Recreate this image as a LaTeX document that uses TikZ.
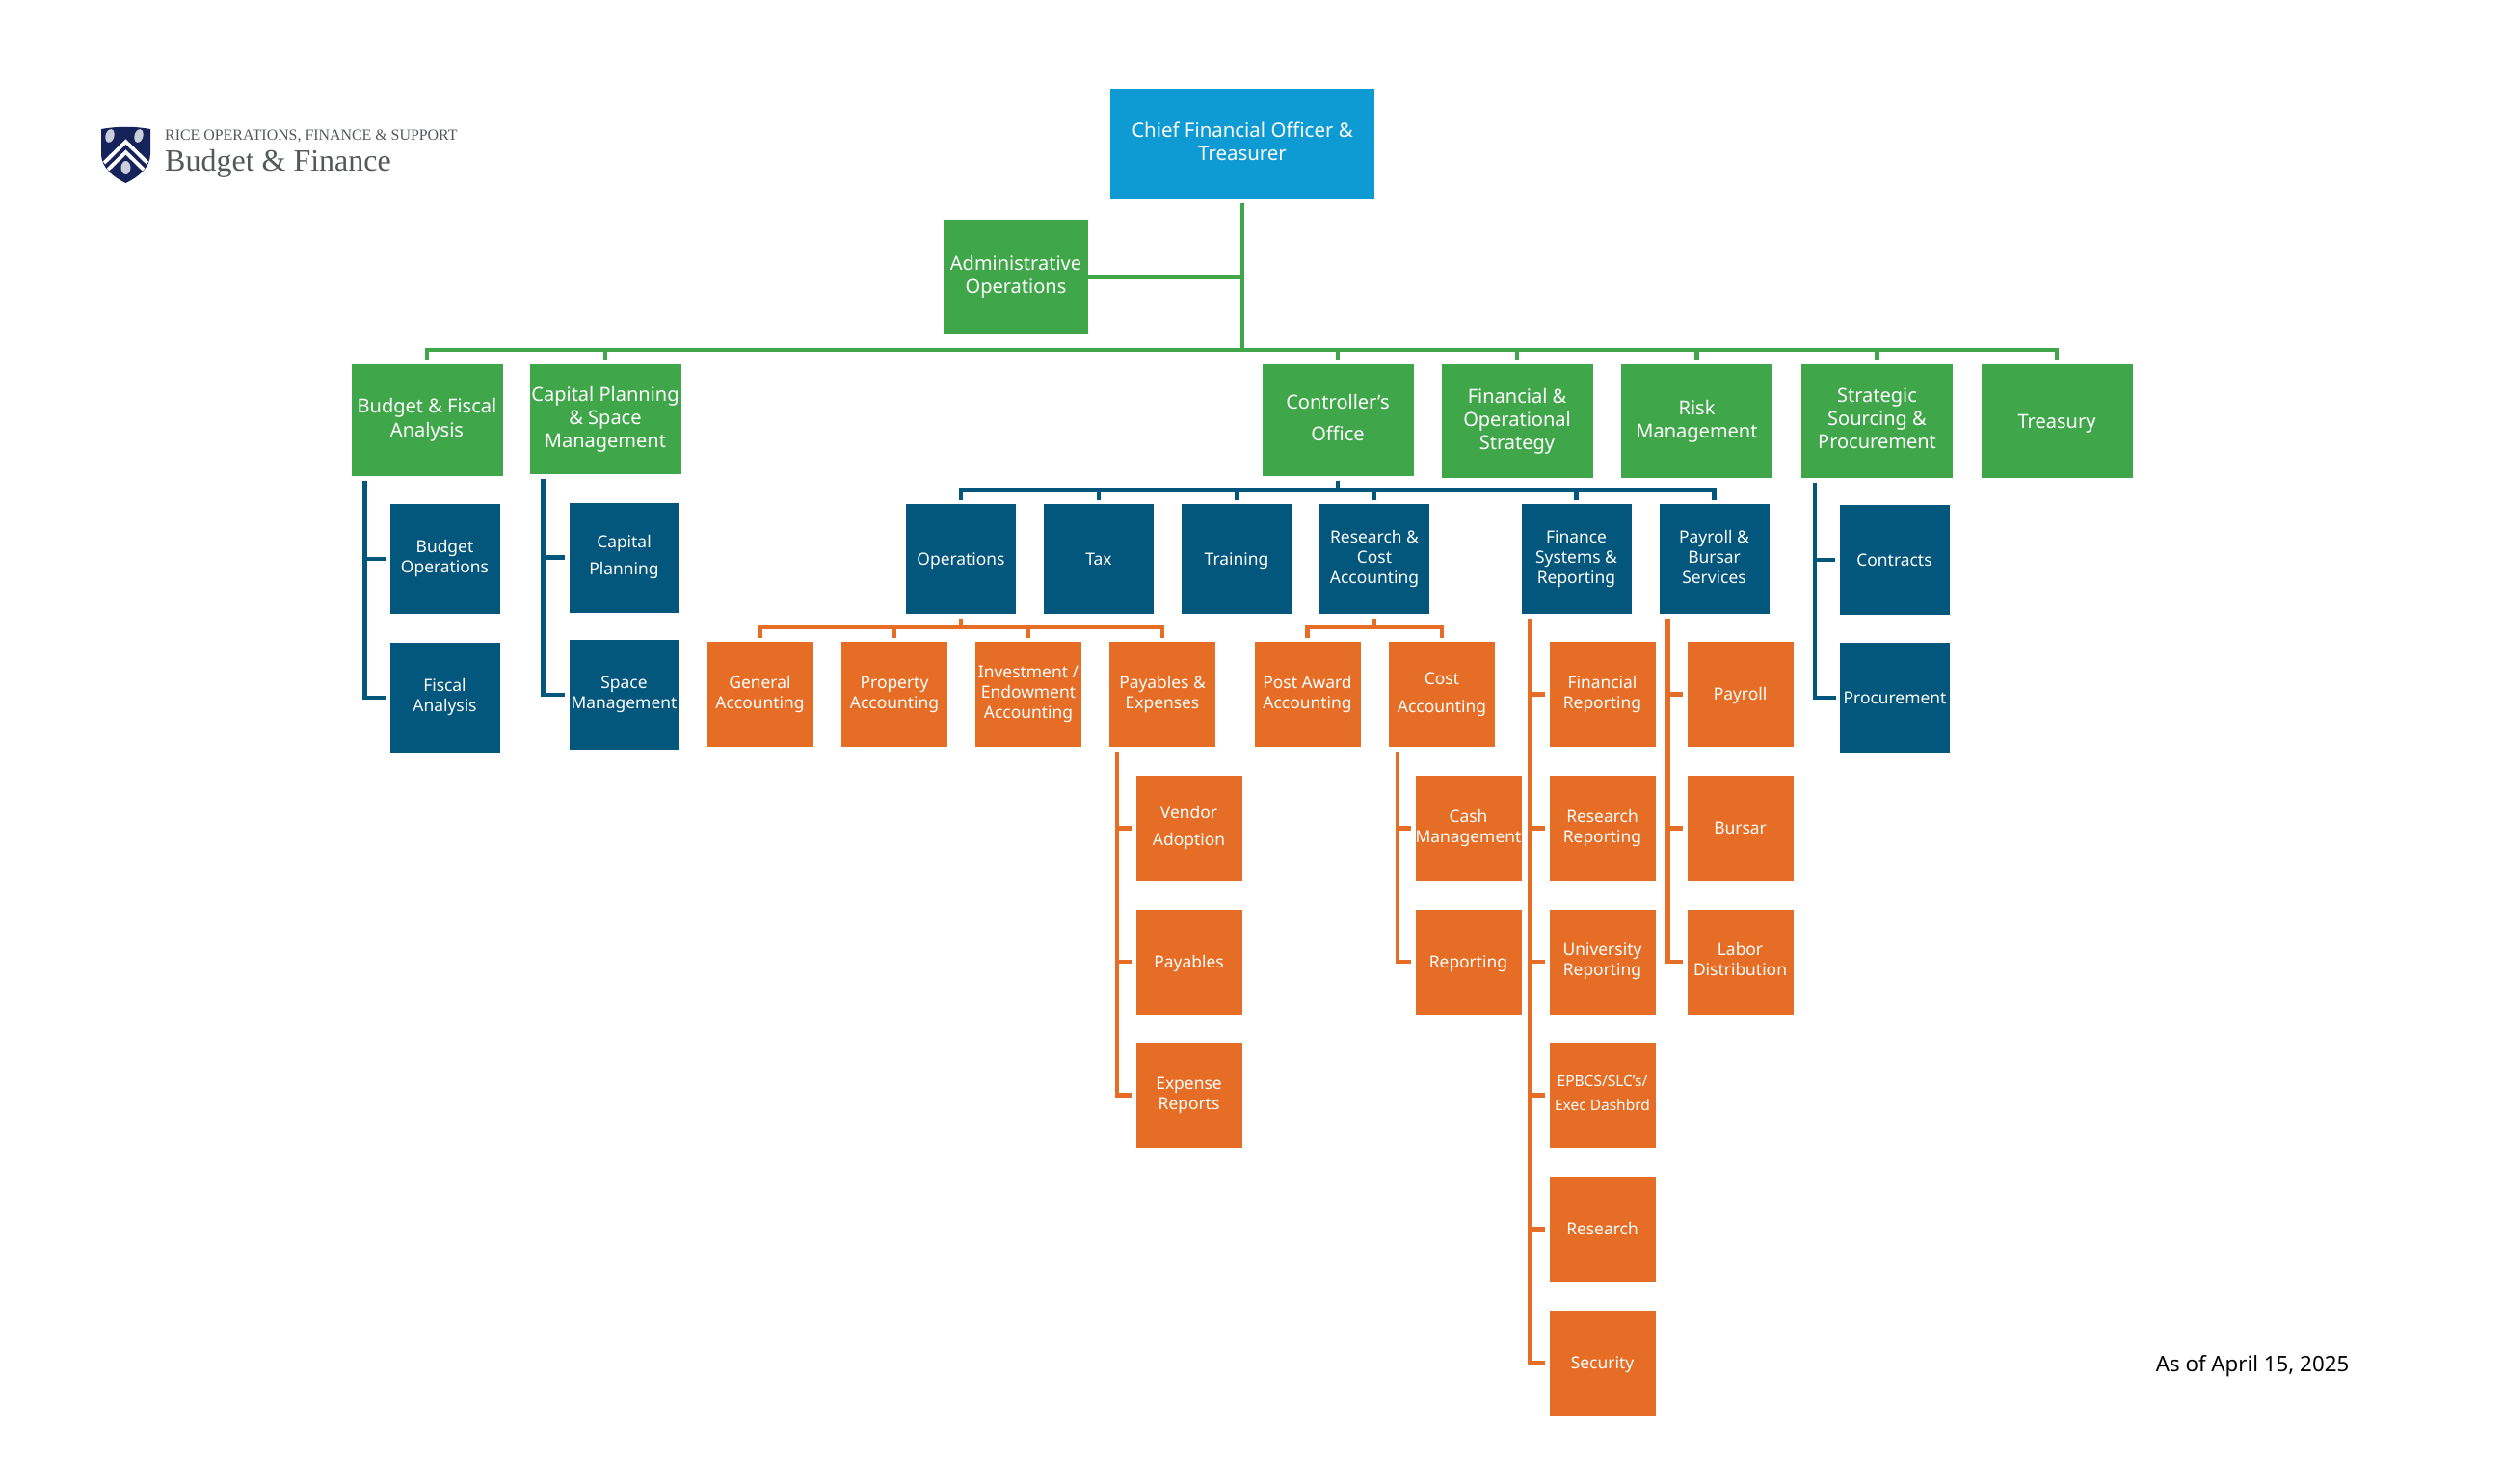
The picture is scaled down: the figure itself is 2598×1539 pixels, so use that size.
\documentclass[tikz,border=0pt]{standalone}
\usepackage{fontspec}
\setmainfont{Noto Sans}
\newfontfamily\logofont{Liberation Serif}

\definecolor{cfoblue}{HTML}{0E9BD4}
\definecolor{riceGreen}{HTML}{40A64A}
\definecolor{riceBlue}{HTML}{03567C}
\definecolor{riceOrange}{HTML}{E66D26}
\definecolor{riceNavy}{HTML}{15235A}
\definecolor{logoGrey}{HTML}{55585A}

\tikzset{
  orgbox/.style={inner sep=0pt,outer sep=0pt,align=center,text=white,
    execute at begin node={\vspace*{3pt}\rule{0pt}{0.95em}},
    execute at end node={\rule[-0.25em]{0pt}{0.25em}}},
  cfobox/.style={orgbox,fill=cfoblue,minimum width=274pt,minimum height=114pt,font=\fontsize{20.4}{24}\selectfont},
  greenbox/.style={orgbox,fill=riceGreen,minimum width=157pt,minimum height=116pt,font=\fontsize{20}{24}\selectfont},
  bluebox/.style={orgbox,fill=riceBlue,minimum width=114pt,minimum height=114pt,font=\fontsize{17.4}{21}\selectfont},
  orangebox/.style={orgbox,fill=riceOrange,minimum width=110pt,minimum height=109pt,font=\fontsize{17.4}{21}\selectfont},
  orglink/.style={line width=4.6pt,shorten <=4.5pt,shorten >=4.5pt},
  greenlink/.style={orglink,draw=riceGreen},
  bluelink/.style={orglink,draw=riceBlue},
  orangelink/.style={orglink,draw=riceOrange},
}

\begin{document}
\begin{tikzpicture}[x=1pt,y=-1pt]
\useasboundingbox (0,0) rectangle (2598,1539);

% logo
\fill[riceNavy] (105,134) .. controls (122,131) and (139,131) .. (156,134)
  -- (156,160) .. controls (156,174) and (143,184) .. (130.5,190)
  .. controls (118,184) and (105,174) .. (105,160) -- cycle;
\draw[white,line width=3.8pt] (108,169) -- (130.5,147) -- (153,169);
\draw[white,line width=3.8pt] (112,176) -- (130.5,158) -- (149,176);
\fill[white!78!riceNavy,rotate around={-15:(114,141)}] (114,141) ellipse (4.5 and 7);
\fill[white!78!riceNavy,rotate around={-15:(144,141)}] (144,141) ellipse (4.5 and 7);
\fill[white!78!riceNavy] (130.5,174) ellipse (5 and 7);
\node[anchor=west,inner sep=0pt,text=logoGrey,font=\logofont\fontsize{15.9}{18}\selectfont] (RiceLine) at (171,141) {RICE OPERATIONS, FINANCE \& SUPPORT};
\node[anchor=west,inner sep=0pt,text=logoGrey,font=\logofont\fontsize{32}{36}\selectfont] (BudgetFinance) at (171,170) {Budget \& Finance};

% date
\node[inner sep=0pt,font=\fontsize{22.3}{26}\selectfont] (AsOf) at (2337,1418) {As of April 15, 2025};

% top
\node[cfobox] (CFO) at (1289,149) {Chief Financial Officer \&\\Treasurer};
\node[greenbox,minimum width=150pt,minimum height=119pt] (AdminOps) at (1054,287.5) {Administrative\\Operations};

% green row
\node[greenbox] (BudgetFiscal) at (443,436) {Budget \& Fiscal\\[1pt]Analysis};
\node[greenbox,minimum height=114pt] (CapitalPlanning) at (628,435) {Capital Planning\\\& Space\\Management};
\node[greenbox] (Controller) at (1388,436) {Controller’s\\[9pt]Office};
\node[greenbox,minimum height=118pt] (FinancialOps) at (1574,437) {Financial \&\\Operational\\Strategy};
\node[greenbox,minimum height=118pt] (RiskMgmt) at (1760.5,437) {Risk\\Management};
\node[greenbox,minimum height=118pt] (StrategicSourcing) at (1947.5,437) {Strategic\\Sourcing \&\\Procurement};
\node[greenbox,minimum height=118pt] (Treasury) at (2134,437) {Treasury};

% blue row
\node[bluebox] (Operations) at (997,580) {Operations};
\node[bluebox] (Tax) at (1140,580) {Tax};
\node[bluebox] (Training) at (1283,580) {Training};
\node[bluebox] (ResearchCost) at (1426,580) {Research \&\\Cost\\Accounting};
\node[bluebox] (FinanceSystems) at (1635.5,580) {Finance\\Systems \&\\Reporting};
\node[bluebox] (PayrollBursar) at (1778.5,580) {Payroll \&\\Bursar\\Services};

% blue children
\node[bluebox] (BudgetOps) at (461.5,580) {Budget\\Operations};
\node[bluebox] (FiscalAnalysis) at (461.5,724) {Fiscal\\Analysis};
\node[bluebox] (CapPlanning) at (647.5,578.5) {Capital\\[7pt]Planning};
\node[bluebox] (SpaceMgmt) at (647.5,721) {Space\\Management};
\node[bluebox] (Contracts) at (1965.5,581) {Contracts};
\node[bluebox] (Procurement) at (1966,724) {Procurement};

% orange row
\node[orangebox] (GeneralAcct) at (788.5,720.5) {General\\Accounting};
\node[orangebox] (PropertyAcct) at (928,720.5) {Property\\Accounting};
\node[orangebox] (InvestmentAcct) at (1067,720.5) {Investment /\\Endowment\\Accounting};
\node[orangebox] (PayablesExp) at (1206,720.5) {Payables \&\\Expenses};
\node[orangebox] (PostAward) at (1356.5,720.5) {Post Award\\Accounting};
\node[orangebox] (CostAcct) at (1496,720.5) {Cost\\[8pt]Accounting};

% orange children
\node[orangebox] (VendorAdoption) at (1233.5,859.3) {Vendor\\[7pt]Adoption};
\node[orangebox] (Payables) at (1233.5,998) {Payables};
\node[orangebox] (ExpenseReports) at (1233.5,1136.5) {Expense\\Reports};
\node[orangebox] (CashMgmt) at (1523.5,859.3) {Cash\\Management};
\node[orangebox] (CostReporting) at (1523.5,998) {Reporting};
\node[orangebox] (FinancialRep) at (1662.5,720.5) {Financial\\Reporting};
\node[orangebox] (ResearchRep) at (1662.5,859.3) {Research\\Reporting};
\node[orangebox] (UniversityRep) at (1662.5,998) {University\\Reporting};
\node[orangebox,font=\fontsize{15.5}{25}\selectfont] (EPBCS) at (1662.5,1136.5) {EPBCS/SLC’s/\\Exec Dashbrd};
\node[orangebox] (Research) at (1662.5,1275.5) {Research};
\node[orangebox] (Security) at (1662.5,1414.5) {Security};
\node[orangebox] (Payroll) at (1805.5,720.5) {Payroll};
\node[orangebox] (Bursar) at (1805.5,859.3) {Bursar};
\node[orangebox] (LaborDist) at (1805.5,998) {Labor\\Distribution};

% bus heights
\coordinate (GreenBus) at (0,363);
\coordinate (BlueBus) at (0,508.5);
\coordinate (OrangeBus) at (0,651);

% green connectors
\draw[greenlink,shorten >=0pt] (CFO.south) |- (AdminOps.east);
\draw[greenlink] (CFO.south) -- (CFO.south |- GreenBus) -| (BudgetFiscal.north);
\draw[greenlink] (CFO.south) -- (CFO.south |- GreenBus) -| (CapitalPlanning.north);
\draw[greenlink] (CFO.south) -- (CFO.south |- GreenBus) -| (Controller.north);
\draw[greenlink] (CFO.south) -- (CFO.south |- GreenBus) -| (FinancialOps.north);
\draw[greenlink] (CFO.south) -- (CFO.south |- GreenBus) -| (RiskMgmt.north);
\draw[greenlink] (CFO.south) -- (CFO.south |- GreenBus) -| (StrategicSourcing.north);
\draw[greenlink] (CFO.south) -- (CFO.south |- GreenBus) -| (Treasury.north);

% blue connectors
\draw[bluelink] (Controller.south) -- (Controller.south |- BlueBus) -| (Operations.north);
\draw[bluelink] (Controller.south) -- (Controller.south |- BlueBus) -| (Tax.north);
\draw[bluelink] (Controller.south) -- (Controller.south |- BlueBus) -| (Training.north);
\draw[bluelink] (Controller.south) -- (Controller.south |- BlueBus) -| (ResearchCost.north);
\draw[bluelink] (Controller.south) -- (Controller.south |- BlueBus) -| (FinanceSystems.north);
\draw[bluelink] (Controller.south) -- (Controller.south |- BlueBus) -| (PayrollBursar.north);
\draw[bluelink] ([xshift=14pt]BudgetFiscal.south west) |- (BudgetOps.west);
\draw[bluelink] ([xshift=14pt]BudgetFiscal.south west) |- (FiscalAnalysis.west);
\draw[bluelink] ([xshift=14pt]CapitalPlanning.south west) |- (CapPlanning.west);
\draw[bluelink] ([xshift=14pt]CapitalPlanning.south west) |- (SpaceMgmt.west);
\draw[bluelink] ([xshift=14pt]StrategicSourcing.south west) |- (Contracts.west);
\draw[bluelink] ([xshift=14pt]StrategicSourcing.south west) |- (Procurement.west);

% orange connectors
\draw[orangelink] (Operations.south) -- (Operations.south |- OrangeBus) -| (GeneralAcct.north);
\draw[orangelink] (Operations.south) -- (Operations.south |- OrangeBus) -| (PropertyAcct.north);
\draw[orangelink] (Operations.south) -- (Operations.south |- OrangeBus) -| (InvestmentAcct.north);
\draw[orangelink] (Operations.south) -- (Operations.south |- OrangeBus) -| (PayablesExp.north);
\draw[orangelink] (ResearchCost.south) -- (ResearchCost.south |- OrangeBus) -| (PostAward.north);
\draw[orangelink] (ResearchCost.south) -- (ResearchCost.south |- OrangeBus) -| (CostAcct.north);
\draw[orangelink] ([xshift=8pt]PayablesExp.south west) |- (VendorAdoption.west);
\draw[orangelink] ([xshift=8pt]PayablesExp.south west) |- (Payables.west);
\draw[orangelink] ([xshift=8pt]PayablesExp.south west) |- (ExpenseReports.west);
\draw[orangelink] ([xshift=9pt]CostAcct.south west) |- (CashMgmt.west);
\draw[orangelink] ([xshift=9pt]CostAcct.south west) |- (CostReporting.west);
\draw[orangelink] ([xshift=9pt]FinanceSystems.south west) |- (FinancialRep.west);
\draw[orangelink] ([xshift=9pt]FinanceSystems.south west) |- (ResearchRep.west);
\draw[orangelink] ([xshift=9pt]FinanceSystems.south west) |- (UniversityRep.west);
\draw[orangelink] ([xshift=9pt]FinanceSystems.south west) |- (EPBCS.west);
\draw[orangelink] ([xshift=9pt]FinanceSystems.south west) |- (Research.west);
\draw[orangelink] ([xshift=9pt]FinanceSystems.south west) |- (Security.west);
\draw[orangelink] ([xshift=9pt]PayrollBursar.south west) |- (Payroll.west);
\draw[orangelink] ([xshift=9pt]PayrollBursar.south west) |- (Bursar.west);
\draw[orangelink] ([xshift=9pt]PayrollBursar.south west) |- (LaborDist.west);
\end{tikzpicture}
\end{document}
